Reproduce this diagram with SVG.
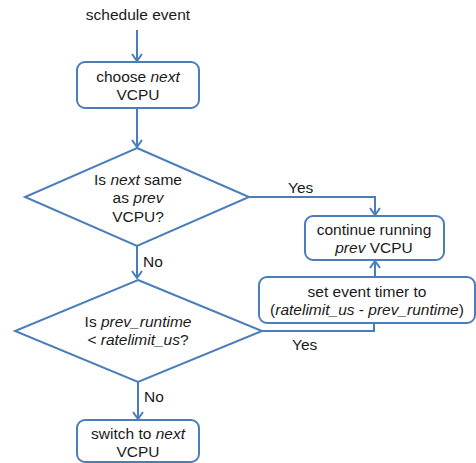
<svg xmlns="http://www.w3.org/2000/svg" width="476" height="463" viewBox="0 0 476 463">
<style>
.n{fill:#fff;stroke:#4a7ebb;stroke-width:2}
.c{fill:none;stroke:#4a7ebb;stroke-width:2}
text{font-family:"Liberation Sans",Arial,sans-serif;font-size:15.5px;fill:#1a1a1a;text-anchor:middle}
.l{text-anchor:start}
.i{font-style:italic}
</style>
<defs>
<marker id="a" viewBox="0 0 12 12" refX="10" refY="6" markerWidth="12" markerHeight="12" markerUnits="userSpaceOnUse" orient="auto">
<path d="M3,1 L10,6 L3,11" fill="none" stroke="#4a7ebb" stroke-width="2"/>
</marker>
</defs>
<g id="connectors">
<path class="c" d="M137,30 V61" marker-end="url(#a)"/>
<path class="c" d="M137,108 V147" marker-end="url(#a)"/>
<path class="c" d="M249,197 H375 V215" marker-end="url(#a)"/>
<path class="c" d="M137,246 V278" marker-end="url(#a)"/>
<path class="c" d="M262,331 H374 V323"/>
<path class="c" d="M375,277 V261" marker-end="url(#a)"/>
<path class="c" d="M138,382 V419" marker-end="url(#a)"/>
<text class="l" x="288" y="193">Yes</text>
<text class="l" x="292" y="350">Yes</text>
<text class="l" x="143" y="267">No</text>
<text class="l" x="144" y="402">No</text>
</g>
<g id="start"><text x="138" y="20">schedule event</text></g>
<g id="choose">
<rect class="n" x="77" y="62" width="122" height="46" rx="8"/>
<text x="138" y="82">choose <tspan class="i">next</tspan></text>
<text x="138" y="100">VCPU</text>
</g>
<g id="same">
<polygon class="n" points="137,148 249,197 137,246 25,197"/>
<text x="138" y="185">Is <tspan class="i">next</tspan> same</text>
<text x="138" y="203">as <tspan class="i">prev</tspan></text>
<text x="138" y="222">VCPU?</text>
</g>
<g id="continue">
<rect class="n" x="305" y="216" width="139" height="44" rx="8"/>
<text x="374" y="235">continue running</text>
<text x="374" y="253"><tspan class="i">prev</tspan> VCPU</text>
</g>
<g id="settimer">
<rect class="n" x="259" y="277" width="216" height="46" rx="8"/>
<text x="367" y="297">set event timer to</text>
<text x="367" y="315">(<tspan class="i">ratelimit_us</tspan> - <tspan class="i">prev_runtime</tspan>)</text>
</g>
<g id="runtime">
<polygon class="n" points="138,280 262,331 138,382 15,331"/>
<text x="138" y="327">Is <tspan class="i">prev_runtime</tspan></text>
<text x="138" y="345">&lt; <tspan class="i">ratelimit_us</tspan>?</text>
</g>
<g id="switch">
<rect class="n" x="77" y="420" width="122" height="42" rx="8"/>
<text x="138" y="439">switch to <tspan class="i">next</tspan></text>
<text x="138" y="457">VCPU</text>
</g>
</svg>
